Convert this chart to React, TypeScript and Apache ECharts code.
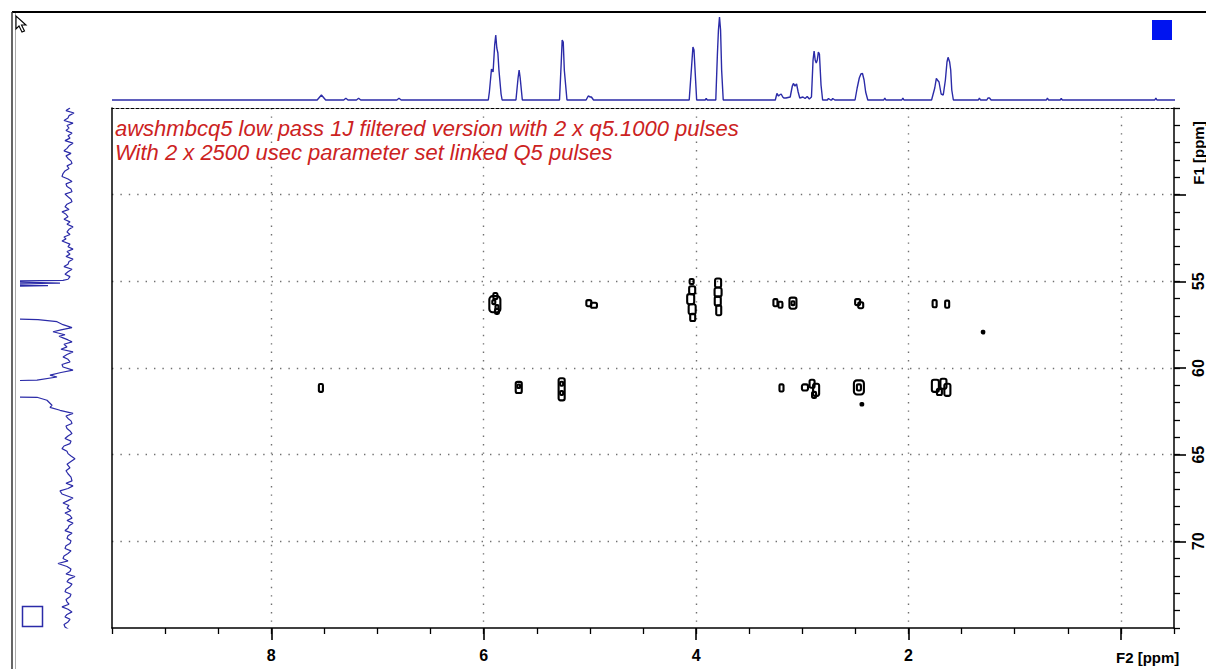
import React, { useEffect, useRef } from "react";
import * as echarts from "echarts";

// ---------- DATA ----------
const TITLE_LINES = [
  "awshmbcq5 low pass 1J filtered version with 2 x q5.1000 pulses",
  "With 2 x 2500 usec parameter set linked Q5 pulses",
];

const F2_TICKS = [0, 2, 4, 6, 8];
const F2_LABELS = [2, 4, 6, 8];
const F1_TICKS = [50, 55, 60, 65, 70];
const F1_LABELS = [55, 60, 65, 70];

// top 1D projection (F2): ppm, intensity
const TOP_PPM = [
  9.5, 7.57, 7.53, 7.49, 7.32, 7.3, 7.28, 7.2, 7.18, 7.16, 6.82, 6.8, 6.78,
  5.96, 5.95, 5.93, 5.915, 5.9, 5.89, 5.88, 5.87, 5.86, 5.85, 5.84, 5.83,
  5.7, 5.68, 5.67, 5.66, 5.64,
  5.29, 5.275, 5.265, 5.255, 5.245, 5.22,
  5.04, 5.02, 5.0, 4.99, 4.97,
  4.07, 4.05, 4.035, 4.025, 4.01, 4.0,
  3.92, 3.91, 3.9,
  3.82, 3.805, 3.795, 3.785, 3.775, 3.765, 3.75,
  3.26, 3.245, 3.23, 3.22, 3.205, 3.19, 3.18, 3.16, 3.12, 3.1, 3.09, 3.075, 3.06, 3.045, 3.03,
  3.0, 2.98, 2.96, 2.94,
  2.92, 2.905, 2.895, 2.885, 2.875, 2.865, 2.855, 2.845, 2.83, 2.815,
  2.77, 2.76, 2.74, 2.73, 2.72, 2.7,
  2.51, 2.49, 2.47, 2.455, 2.44, 2.425, 2.41, 2.39,
  2.24, 2.23, 2.22, 2.07, 2.06, 2.05,
  1.79, 1.76, 1.745, 1.735, 1.72, 1.7, 1.68, 1.66, 1.645, 1.635, 1.62, 1.61, 1.6, 1.585,
  1.35, 1.34, 1.33, 1.27, 1.26, 1.245, 1.23,
  0.71, 0.7, 0.69, 0.58, 0.57, 0.56,
  -0.31, -0.32, -0.33, -0.5,
];
const TOP_INT = [
  0, 0, 5, 0, 0, 1.7, 0, 0, 1.7, 0, 0, 1.7, 0,
  0, 8, 31, 28, 55, 65, 52, 47, 30, 18, 6, 0,
  0, 22, 30, 22, 0,
  0, 35, 60, 58, 30, 0,
  0, 4, 3, 3, 0,
  0, 30, 53, 50, 20, 0,
  0, 1.5, 0,
  0, 45, 70, 83, 70, 30, 0,
  0, 6.5, 4, 5, 6, 3, 2, 2, 3, 14, 16.5, 14, 16, 8, 2,
  3, 1.5, 3.5, 1,
  3, 40, 49, 40, 37, 40, 48, 46, 15, 0,
  0, 1.5, 0, 0, 1.5, 0,
  0, 12, 22, 26, 26.5, 20, 8, 0,
  0, 2, 0, 0, 2, 0,
  0, 12, 21.7, 20, 18, 6, 5, 20, 38, 42.7, 38, 30, 10, 0,
  0, 2, 0, 0, 2, 2, 0,
  0, 2, 0, 0, 1.5, 0,
  0, 2, 0, 0,
];

// left 1D projection (F1): ppm, intensity (values above 59 run off the panel)
const F1_PPM = [
  45.0, 45.15, 45.29, 45.44, 45.58, 45.72, 45.87, 46.01, 46.16, 46.3, 46.45, 46.6, 46.74,
  46.88, 47.03, 47.18, 47.33, 47.47, 47.62, 47.76, 47.91, 48.05, 48.2, 48.34, 48.49,
  48.63, 48.78, 48.95, 49.1, 49.24, 49.38, 49.53, 49.68, 49.83, 49.97, 50.12, 50.26,
  50.41, 50.55, 50.7, 50.85, 50.99, 51.13, 51.28, 51.42, 51.57, 51.71, 51.86, 52.0,
  52.15, 52.3, 52.44, 52.55, 52.67, 52.85, 53.0, 53.14, 53.28, 53.43, 53.57, 53.72,
  53.86, 54.01, 54.15, 54.3, 54.45, 54.59, 54.73, 54.88,
  54.94, 55.0, 55.1, 55.17, 55.25, 55.31, 56.0, 57.0, 57.13,
  57.21, 57.33, 57.5, 57.67, 57.8, 57.91, 58.08, 58.17, 58.26, 58.38, 58.49, 58.63,
  58.78, 58.92, 59.07, 59.22, 59.36, 59.5, 59.65, 59.8, 59.94, 60.12, 60.26, 60.41,
  60.52, 60.7, 60.76, 61.2, 61.66,
  61.69, 61.86, 62.15, 62.27, 62.44, 62.62, 62.77, 62.91, 63.05, 63.2, 63.35, 63.49,
  63.63, 63.78, 63.92, 64.07, 64.22, 64.36, 64.5, 64.65, 64.8, 64.94, 65.08, 65.23,
  65.35, 65.55, 65.76, 65.93, 66.1, 66.3, 66.51, 66.65, 66.8, 66.95, 67.09, 67.27,
  67.5, 67.65, 67.79, 67.93, 68.08, 68.22, 68.37, 68.51, 68.66, 68.8, 68.95, 69.1,
  69.24, 69.38, 69.53, 69.68, 69.83, 69.97, 70.12, 70.26, 70.41, 70.55, 70.7, 70.85,
  70.99, 71.13, 71.28, 71.45, 71.6, 71.74, 71.88, 72.03, 72.18, 72.33, 72.47, 72.62,
  72.76, 72.91, 73.05, 73.2, 73.35, 73.49, 73.63, 73.78, 73.92, 74.07, 74.22, 74.36,
  74.5, 74.65, 74.8, 74.94, 75.23,
];
const F1_INT = [
  10, 14, 6, 11, 12, 16, 7, 13, 11, 14, 8, 12, 10,
  15, 7, 11, 13, 16, 9, 14, 12, 9, 8, 13, 11,
  15, 17, 18, 12, 8, 14, 13, 9, 8, 15, 12, 9,
  8, 13, 15, 11, 18, 14, 12, 16, 10, 13, 7, 11,
  13, 10, 16, 14, 18, 10, 12, 7, 13, 10, 14, 7,
  11, 12, 16, 8, 12, 15, 10, 12,
  17, 90, 20, 90, 32, 90, 95, 95, 90,
  42, 23, 17, 8, 19, 27, 15, 21, 17, 12, 8, 16,
  13, 19, 7, 13, 17, 12, 10, 18, 17, 7, 19, 30,
  23, 43, 90, 95, 90,
  43, 33, 28, 30, 20, 7, 14, 12, 9, 8, 14, 13,
  10, 8, 12, 15, 9, 10, 16, 18, 13, 12, 9, 5,
  8, 13, 10, 14, 12, 9, 8, 14, 7, 12, 20, 18,
  7, 12, 17, 11, 13, 9, 15, 10, 8, 13, 7, 11,
  12, 15, 8, 12, 13, 9, 10, 14, 15, 9, 12, 16,
  17, 12, 22, 13, 9, 10, 14, 5, 11, 13, 8, 10,
  14, 15, 9, 10, 14, 13, 11, 18, 12, 8, 13, 15,
  10, 12, 16, 15, 8,
];

// 2D contours: F2 centre, F1 centre, F2 extent, F1 extent (ppm), filled flag
const CONTOUR_F2 = [
  5.895, 5.89, 5.875, 5.905, 5.875,
  5.01, 4.962,
  7.533,
  5.67, 5.67,
  5.266, 5.266, 5.266,
  4.042, 4.037, 4.051, 4.037, 4.032,
  3.793, 3.793, 3.796, 3.787,
  3.253, 3.206,
  3.088, 3.088,
  2.479, 2.45,
  1.754, 1.636,
  1.298,
  3.196, 2.975, 2.908, 2.87, 2.889,
  2.467, 2.467, 2.439,
  1.747, 1.671, 1.634, 1.709,
];
const CONTOUR_F1 = [
  56.32, 55.85, 56.73, 56.2, 56.49,
  56.26, 56.38,
  61.15,
  61.12, 61.05,
  61.23, 60.91, 61.44,
  55.01, 55.51, 56.03, 56.61, 57.08,
  55.1, 55.62, 56.14, 56.67,
  56.23, 56.35,
  56.26, 56.26,
  56.2, 56.38,
  56.29, 56.32,
  57.93,
  61.15, 61.12, 60.91, 61.26, 61.55,
  61.12, 61.12, 62.09,
  61.03, 60.91, 61.26, 61.38,
];
const CONTOUR_W = [
  0.104, 0.038, 0.038, 0.028, 0.028,
  0.047, 0.057,
  0.038,
  0.057, 0.025,
  0.057, 0.028, 0.028,
  0.038, 0.057, 0.066, 0.066, 0.047,
  0.057, 0.066, 0.057, 0.047,
  0.038, 0.038,
  0.066, 0.028,
  0.047, 0.047,
  0.038, 0.038,
  0.02,
  0.038, 0.057, 0.047, 0.057, 0.038,
  0.094, 0.038, 0.025,
  0.066, 0.057, 0.057, 0.047,
];
const CONTOUR_H = [
  0.93, 0.35, 0.29, 0.23, 0.23,
  0.35, 0.29,
  0.46,
  0.64, 0.2,
  1.28, 0.23, 0.23,
  0.29, 0.46, 0.58, 0.58, 0.41,
  0.52, 0.52, 0.52, 0.58,
  0.41, 0.35,
  0.64, 0.23,
  0.35, 0.35,
  0.41, 0.41,
  0.12,
  0.41, 0.35, 0.46, 0.7, 0.35,
  0.81, 0.35, 0.15,
  0.7, 0.58, 0.7, 0.35,
];
const CONTOUR_FILLED = [
  0, 0, 0, 0, 0,
  0, 0,
  0,
  0, 0,
  0, 0, 0,
  0, 0, 0, 0, 0,
  0, 0, 0, 0,
  0, 0,
  0, 0,
  0, 0,
  0, 0,
  1,
  0, 0, 0, 0, 0,
  0, 0, 1,
  0, 0, 0, 0,
];

// ---------- COMPONENT ----------
const BLUE = "#2b2ba8";
const RED = "#cc2222";
const GRID_DOT = "#707070";
const FONT = "'Liberation Sans', Arial, sans-serif";

export default function App() {
  const ref = useRef<HTMLDivElement>(null);

  useEffect(() => {
    if (!ref.current) return;
    const chart = echarts.init(ref.current, undefined, { renderer: "svg" });

    const topData = TOP_PPM.map((p, i) => [p, TOP_INT[i]]);
    const leftData = F1_PPM.map((p, i) => [F1_INT[i], p]);
    const contourData = CONTOUR_F2.map((p, i) => [
      p,
      CONTOUR_F1[i],
      CONTOUR_W[i],
      CONTOUR_H[i],
      CONTOUR_FILLED[i],
    ]);

    const main = { left: 112, top: 108, width: 1063, height: 520 };

    const option: any = {
      animation: false,
      backgroundColor: "#ffffff",
      title: {
        text: TITLE_LINES.join("\n"),
        left: 115,
        top: 116,
        padding: 0,
        textStyle: {
          color: RED,
          fontStyle: "italic",
          fontWeight: "normal",
          fontSize: 22,
          fontFamily: FONT,
          lineHeight: 24,
        },
      },
      grid: [
        { ...main, show: false },
        { left: 112, top: 12, width: 1063, height: 89, show: false },
        { left: 21, top: 108, width: 59, height: 520, show: false },
      ],
      xAxis: [
        {
          gridIndex: 0,
          type: "value",
          position: "bottom",
          min: -0.5,
          max: 9.5,
          interval: 0.5,
          inverse: true,
          axisLine: { show: true, onZero: false, lineStyle: { color: "#000", width: 1.5 } },
          axisTick: { show: true, length: 6, lineStyle: { color: "#000", width: 1.3 } },
          axisLabel: { show: false },
          splitLine: { show: false },
        },
        {
          gridIndex: 0,
          type: "value",
          position: "bottom",
          min: -0.5,
          max: 9.5,
          interval: 0.5,
          inverse: true,
          axisLine: { show: false, onZero: false },
          axisTick: {
            show: true,
            length: 12,
            customValues: F2_TICKS,
            lineStyle: { color: "#000", width: 1.6 },
          },
          axisLabel: {
            show: true,
            customValues: F2_LABELS,
            margin: 19,
            color: "#000",
            fontWeight: "bold",
            fontSize: 16,
            fontFamily: FONT,
          },
          splitLine: {
            show: true,
            lineStyle: { color: GRID_DOT, width: 1.4, type: [1.4, 7] },
          },
        },
        {
          gridIndex: 0,
          type: "value",
          position: "top",
          min: -0.5,
          max: 9.5,
          inverse: true,
          axisLine: { show: true, onZero: false, lineStyle: { color: "#000", width: 1.2, type: [3, 2] } },
          axisTick: { show: false },
          axisLabel: { show: false },
          splitLine: { show: false },
        },
        { gridIndex: 1, type: "value", min: -0.5, max: 9.5, inverse: true, show: false },
        { gridIndex: 2, type: "value", min: 0, max: 59, inverse: true, show: false },
      ],
      yAxis: [
        {
          gridIndex: 0,
          type: "value",
          position: "right",
          min: 45,
          max: 75,
          interval: 1,
          inverse: true,
          axisLine: { show: true, onZero: false, lineStyle: { color: "#000", width: 1.5 } },
          axisTick: { show: true, length: 6, lineStyle: { color: "#000", width: 1.3 } },
          axisLabel: { show: false },
          splitLine: { show: false },
        },
        {
          gridIndex: 0,
          type: "value",
          position: "right",
          min: 45,
          max: 75,
          interval: 5,
          inverse: true,
          axisLine: { show: false, onZero: false },
          axisTick: {
            show: true,
            length: 12,
            customValues: F1_TICKS,
            lineStyle: { color: "#000", width: 1.6 },
          },
          axisLabel: {
            show: true,
            customValues: F1_LABELS,
            rotate: 90,
            margin: 16,
            color: "#000",
            fontWeight: "bold",
            fontSize: 16,
            fontFamily: FONT,
          },
          splitLine: {
            show: true,
            lineStyle: { color: GRID_DOT, width: 1.4, type: [1.4, 7] },
          },
        },
        {
          gridIndex: 0,
          type: "value",
          position: "left",
          min: 45,
          max: 75,
          inverse: true,
          axisLine: { show: true, onZero: false, lineStyle: { color: "#000", width: 1.5 } },
          axisTick: { show: false },
          axisLabel: { show: false },
          splitLine: { show: false },
        },
        { gridIndex: 1, type: "value", min: -1, max: 88, show: false },
        { gridIndex: 2, type: "value", min: 45, max: 75, inverse: true, show: false },
      ],
      series: [
        {
          type: "line",
          name: "F2 projection",
          xAxisIndex: 3,
          yAxisIndex: 3,
          data: topData,
          showSymbol: false,
          symbol: "none",
          clip: true,
          lineStyle: { color: BLUE, width: 1.4 },
          z: 3,
        },
        {
          type: "line",
          name: "F1 projection",
          xAxisIndex: 4,
          yAxisIndex: 4,
          data: leftData,
          showSymbol: false,
          symbol: "none",
          clip: true,
          lineStyle: { color: BLUE, width: 1.2 },
          z: 3,
        },
        {
          type: "custom",
          name: "contours",
          xAxisIndex: 0,
          yAxisIndex: 0,
          data: contourData,
          encode: { x: 0, y: 1 },
          clip: true,
          z: 4,
          renderItem: (params: any, api: any) => {
            const c = api.coord([api.value(0), api.value(1)]);
            const s = api.size([api.value(2), api.value(3)], [api.value(0), api.value(1)]);
            const filled = api.value(4) === 1;
            const w = Math.max(s[0], 2.5);
            const h = Math.max(s[1], 2.5);
            return {
              type: "rect",
              shape: {
                x: c[0] - w / 2,
                y: c[1] - h / 2,
                width: w,
                height: h,
                r: Math.min(w, h) * 0.3,
              },
              style: {
                fill: filled ? "#000" : "none",
                stroke: "#000",
                lineWidth: 2.1,
              },
            };
          },
        },
      ],
      graphic: [
        {
          type: "line",
          shape: { x1: 12, y1: 12, x2: 1206, y2: 12 },
          style: { stroke: "#000", lineWidth: 2 },
        },
        {
          type: "line",
          shape: { x1: 12, y1: 12, x2: 12, y2: 669 },
          style: { stroke: "#333", lineWidth: 1.5 },
        },
        {
          type: "line",
          shape: { x1: 15.5, y1: 13, x2: 15.5, y2: 669 },
          style: { stroke: "#aaa", lineWidth: 1 },
        },
        {
          type: "polygon",
          shape: {
            points: [
              [16, 16],
              [16, 29],
              [19, 26],
              [22, 32],
              [24.5, 31],
              [21.5, 25],
              [26, 25],
            ],
          },
          style: { fill: "#fff", stroke: "#000", lineWidth: 1.1 },
        },
        {
          type: "rect",
          shape: { x: 1152, y: 20, width: 20, height: 20 },
          style: { fill: "#0014f0" },
        },
        {
          type: "rect",
          shape: { x: 22.5, y: 606.5, width: 20, height: 20 },
          style: { fill: "none", stroke: BLUE, lineWidth: 1.5 },
        },
        {
          type: "text",
          x: 1116,
          y: 657,
          style: {
            text: "F2 [ppm]",
            fill: "#000",
            font: "bold 15px 'Liberation Sans', Arial, sans-serif",
            align: "left",
            verticalAlign: "middle",
          },
        },
        {
          type: "text",
          x: 1198,
          y: 153,
          rotation: Math.PI / 2,
          style: {
            text: "F1 [ppm]",
            fill: "#000",
            font: "bold 15px 'Liberation Sans', Arial, sans-serif",
            align: "center",
            verticalAlign: "middle",
          },
        },
      ],
    };

    chart.setOption(option);
    return () => chart.dispose();
  }, []);

  return (
    <div
      ref={ref}
      style={{ position: "fixed", left: 0, top: 0, width: 1206, height: 669, background: "#fff" }}
    />
  );
}
